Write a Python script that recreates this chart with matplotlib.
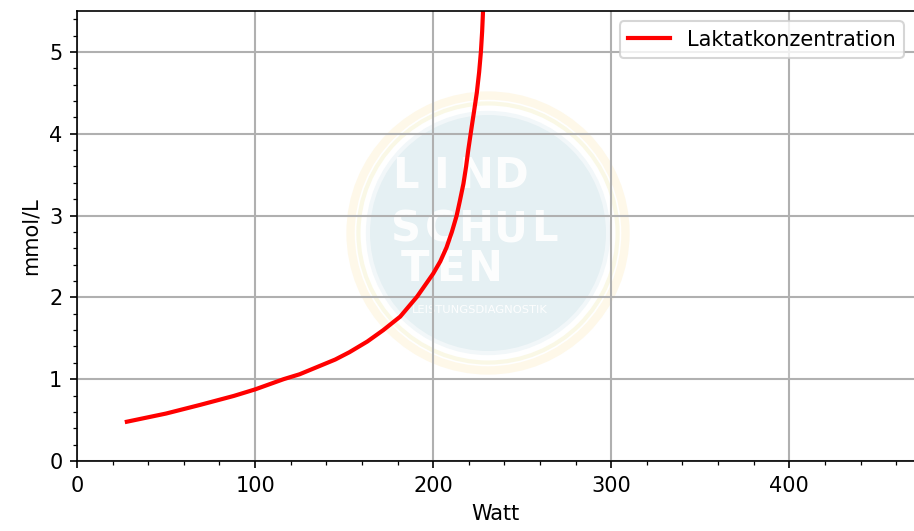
import matplotlib.pyplot as plt
from matplotlib.patches import Circle
from matplotlib.ticker import MultipleLocator

# Laktatkurve
watt = [28, 50, 69, 88, 100, 116, 125, 135, 145, 153, 163, 172, 181.5, 191, 200,
        204, 207.5, 210.5, 213.2, 215, 217, 218.5, 219.7, 221.6, 223, 224.5, 225.8,
        226.8, 227.5, 228]
laktat = [0.48, 0.58, 0.685, 0.795, 0.875, 1.0, 1.06, 1.15, 1.24, 1.33, 1.46, 1.60,
          1.765, 2.01, 2.29, 2.44, 2.61, 2.80, 3.0, 3.18, 3.39, 3.6, 3.80, 4.08, 4.28,
          4.5, 4.75, 5.0, 5.25, 5.5]

fig = plt.figure(figsize=(914/150., 531/150.), dpi=150)

# watermark behind the plot
wm = fig.add_axes([330/914., 1-391/531., 316/914., 316/531.])
wm.set_xlim(-1, 1)
wm.set_ylim(-1, 1)
wm.set_aspect('equal')
wm.axis('off')
wm.add_patch(Circle((0, 0), 0.87, fill=False, ec='#fce6b0', lw=4, alpha=0.28, clip_on=False))
wm.add_patch(Circle((0, 0), 0.82, fill=False, ec='#f4f0c8', lw=2, alpha=0.45, clip_on=False))
wm.add_patch(Circle((0, 0), 0.76, fc='#e5f0f3', ec='#f2f7f9', lw=2, clip_on=False))
for word, x0, yy in (("LIND", -0.52, 0.36), ("SCHUL", -0.52, 0.025), ("TEN", -0.46, -0.23)):
    for i, ch in enumerate(word):
        wm.text(x0 + i*0.22, yy, ch, color='white', fontsize=20, fontweight='bold',
                ha='center', va='center', alpha=0.9)
wm.text(-0.05, -0.49, "LEISTUNGSDIAGNOSTIK", color='white', fontsize=5.5,
        ha='center', va='center', alpha=0.9)

ax = fig.add_axes([77/914., 70/531., 1-77/914., (461-11)/531.])
ax.set_facecolor('none')
ax.plot(watt, laktat, color='red', lw=2, label='Laktatkonzentration')

ax.set_xlim(0, 470)
ax.set_ylim(0, 5.5)
ax.xaxis.set_major_locator(MultipleLocator(100))
ax.xaxis.set_minor_locator(MultipleLocator(20))
ax.yaxis.set_major_locator(MultipleLocator(1))
ax.yaxis.set_minor_locator(MultipleLocator(0.2))
ax.grid(True, which='major', color='#b0b0b0', lw=1)
ax.spines['right'].set_visible(False)
ax.set_xlabel('Watt')
ax.set_ylabel('mmol/L')
ax.legend(loc='upper right')

fig.savefig('out.png', dpi=150)
